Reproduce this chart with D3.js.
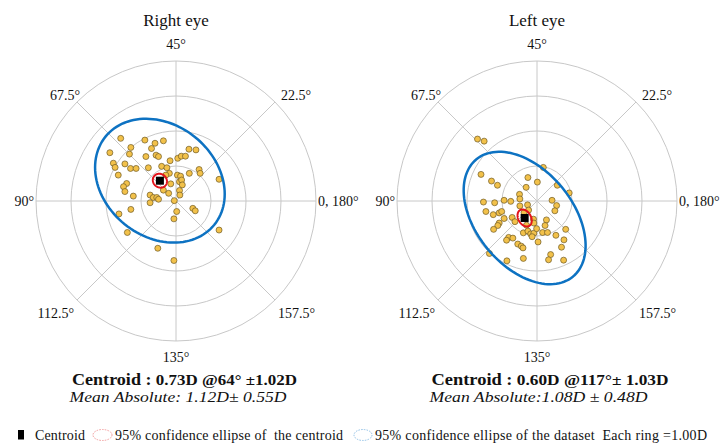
<!DOCTYPE html>
<html><head><meta charset="utf-8">
<script src="https://cdn.jsdelivr.net/npm/d3@7"></script>
<style>body{margin:0;background:#fff}</style>
</head><body><svg id="c" width="721" height="445" font-family="'Liberation Serif', 'Times New Roman', 'DejaVu Serif', serif"></svg>
<script>
// ---------- data ----------
const ringValues = [1, 2, 3, 4];                       // each ring = 1.00 D
const spokeAngles = [0, 45, 90, 135, 180, 225, 270, 315]; // double-angle plot
const axisLabels = ["0, 180°", "22.5°", "45°", "67.5°", "90°", "112.5°", "135°", "157.5°"];
const panelTitles = ["Right eye", "Left eye"];

// [x, y] in dioptres (double-angle vector components)
const rightEyePoints = [
 [-1.58,1.79],[-0.89,1.74],[-0.60,1.65],[-0.36,1.72],[-1.29,1.53],[-0.70,1.50],[-1.89,1.38],
 [-1.33,1.34],[-0.57,1.31],[-0.50,1.27],[-0.86,1.27],[-0.17,1.15],[0.05,1.22],[0.15,1.28],[0.27,1.28],
 [0.37,1.48],[0.57,1.46],[-1.79,1.08],[-1.74,0.96],[-1.46,1.06],[-1.30,0.93],[-1.14,0.93],
 [-0.79,0.95],[-0.41,0.99],[-0.26,0.95],[-0.19,0.79],[-0.29,0.74],[0.04,0.74],[0.13,0.71],
 [0.38,0.79],[0.66,0.90],[0.69,0.79],[-1.65,0.74],[-1.41,0.50],[-1.50,0.41],[-1.46,0.27],
 [-1.22,0.14],[-0.74,0.17],[-0.65,0.10],[-0.55,0.10],[-0.50,0.05],[-0.74,-0.05],[-0.36,0.31],
 [-0.21,0.22],[-0.15,0.49],[0.10,0.55],[0.16,0.60],[0.18,0.46],[0.10,0.30],[0.11,0.17],
 [-0.05,0.01],[1.23,0.62],[-1.29,-0.24],[-1.63,-0.37],[0.02,-0.30],[-0.06,-0.51],[0.48,-0.21],
 [0.55,-0.28],[-1.39,-0.90],[1.23,-0.83],[-0.52,-1.35],[-0.06,-1.70]
];
const leftEyePoints = [
 [-1.70,1.77],[-1.51,1.71],[0.18,0.96],[-1.60,0.76],[-1.30,0.57],[-1.13,0.45],[-0.26,0.67],
 [0.01,0.54],[-0.31,0.39],[0.58,0.45],[0.92,0.23],[-0.50,0.19],[-0.49,0.06],[-1.53,-0.03],
 [-1.21,-0.05],[-0.94,0.02],[-0.75,-0.01],[0.43,0.02],[0.56,-0.13],[0.51,-0.28],[-1.46,-0.30],
 [-1.25,-0.39],[-1.08,-0.34],[-1.01,-0.30],[-0.94,-0.50],[-0.71,-0.47],[-0.63,-0.59],[-0.49,-0.14],
 [-0.27,-0.11],[-0.24,-0.26],[-0.37,-0.33],[-0.10,-0.52],[-0.09,-0.63],[-0.30,-0.69],[0.27,-0.54],
 [0.23,-0.70],[0.16,-0.90],[0.30,-0.90],[-1.08,-0.63],[-1.12,-0.70],[-1.24,-0.81],[-0.39,-0.91],
 [-0.26,-0.86],[-0.18,-0.94],[-0.09,-0.92],[0.03,-1.17],[-0.14,-1.02],[-0.01,-0.79],[0.54,-0.98],
 [0.82,-0.81],[0.77,-1.11],[0.70,-1.32],[0.39,-1.53],[0.33,-1.68],[0.76,-1.69],[-0.81,-1.04],
 [-0.69,-1.06],[-0.87,-1.12],[-0.55,-1.23],[-0.45,-1.29],[-0.40,-1.34],[-1.36,-1.50],
 [-0.86,-1.71],[-0.39,-1.64]
];
const centroids = [[-0.46, 0.58], [-0.353, -0.485]];
// [semi-major, semi-minor, angle in degrees] in dioptres
const datasetEllipses = [[2.0, 1.6, -39], [2.17, 1.38, -50.6]];
const centroidEllipses = [[0.21, 0.19, -40], [0.26, 0.18, -60]];
const centroidTexts = [["Centroid :", " 0.73D @64° ±1.02D"], ["Centroid :", " 0.60D @117°± 1.03D"]];
const meanAbsTexts = ["Mean Absolute: 1.12D± 0.55D", "Mean Absolute:1.08D ± 0.48D"];
const legendLabels = ["Centroid", "95% confidence ellipse of  the centroid",
                      "95% confidence ellipse of the dataset  Each ring =1.00D"];

// ---------- layout ----------
const FONT = "'Liberation Serif', 'Times New Roman', 'DejaVu Serif', serif";
const svg = d3.select("#c");
svg.append("rect").attr("width", 721).attr("height", 445).attr("fill", "#fff");
const R = 140, cy = 201, centersX = [176, 537];
const rScale = d3.scaleLinear().domain([0, d3.max(ringValues)]).range([0, R]);
const labelPos = [[R+2,5,"start"],[105,-101,"start"],[0,-152,"middle"],[-96,-101,"end"],
                  [-R-2,5,"end"],[-102,117,"end"],[0,161,"middle"],[102,117,"start"]];
const textBoxes = [[72, 225, 69.5, 217], [431.5, 237, 429.5, 218]];
const panels = [rightEyePoints, leftEyePoints];

panels.forEach((pts, i) => {
  const cx = centersX[i];
  const maxV = d3.max(ringValues);
  const x = d3.scaleLinear().domain([-maxV, maxV]).range([cx - R, cx + R]);
  const y = d3.scaleLinear().domain([-maxV, maxV]).range([cy + R, cy - R]);
  const g = svg.append("g");
  g.selectAll("circle.ring").data(ringValues).join("circle")
    .attr("cx", cx).attr("cy", cy).attr("r", d => rScale(d))
    .attr("fill", "none").attr("stroke", "#c8c8c8").attr("stroke-width", 1);
  g.selectAll("line.spoke").data(spokeAngles).join("line")
    .attr("x1", cx).attr("y1", cy)
    .attr("x2", d => x(maxV * Math.cos(d * Math.PI / 180)))
    .attr("y2", d => y(maxV * Math.sin(d * Math.PI / 180)))
    .attr("stroke", "#c8c8c8").attr("stroke-width", 1);
  g.selectAll("text.ax").data(axisLabels).join("text")
    .attr("font-family", FONT).attr("fill", "#111")
    .attr("x", (d, k) => cx + labelPos[k][0]).attr("y", (d, k) => cy + labelPos[k][1])
    .attr("text-anchor", (d, k) => labelPos[k][2])
    .attr("font-size", 14).text(d => d);
  g.append("text").attr("font-family", FONT).attr("fill", "#111")
    .attr("x", cx).attr("y", 26).attr("text-anchor", "middle")
    .attr("font-size", 17).text(panelTitles[i]);
  const ellPath = (c, e) => {
    const [a, b, ang] = e, th = ang * Math.PI / 180;
    const ts = d3.range(0, 361, 3).map(t => t * Math.PI / 180);
    return d3.line()
      .x(t => x(c[0] + a * Math.cos(t) * Math.cos(th) - b * Math.sin(t) * Math.sin(th)))
      .y(t => y(c[1] + a * Math.cos(t) * Math.sin(th) + b * Math.sin(t) * Math.cos(th)))(ts) + "Z";
  };
  g.selectAll("circle.pt").data(pts).join("circle")
    .attr("cx", d => x(d[0])).attr("cy", d => y(d[1])).attr("r", 3)
    .attr("fill", "#f2c14a").attr("stroke", "#6e5a25").attr("stroke-width", 0.7);
  g.append("path").attr("d", ellPath(centroids[i], datasetEllipses[i]))
    .attr("fill", "none").attr("stroke", "#0d72c2").attr("stroke-width", 2.5);
  g.append("path").attr("d", ellPath(centroids[i], centroidEllipses[i]))
    .attr("fill", "none").attr("stroke", "#e3131b").attr("stroke-width", 2);
  g.append("rect").attr("x", x(centroids[i][0]) - 4).attr("y", y(centroids[i][1]) - 4)
    .attr("width", 8).attr("height", 8).attr("fill", "#000");
  const tb = textBoxes[i];
  const t1 = svg.append("text").attr("font-family", FONT).attr("fill", "#111")
    .attr("x", tb[0]).attr("y", 385).attr("font-weight", "bold")
    .attr("textLength", tb[1]).attr("lengthAdjust", "spacingAndGlyphs").style("white-space", "pre");
  t1.append("tspan").attr("font-size", 16.5).text(centroidTexts[i][0]);
  t1.append("tspan").attr("font-size", 15.5).text(centroidTexts[i][1]);
  svg.append("text").attr("font-family", FONT).attr("fill", "#111")
    .attr("x", tb[2]).attr("y", 402).attr("font-style", "italic")
    .attr("font-size", 15.5).attr("textLength", tb[3]).attr("lengthAdjust", "spacingAndGlyphs")
    .style("white-space", "pre").text(meanAbsTexts[i]);
});

// ---------- legend ----------
const lg = svg.append("g");
lg.append("rect").attr("x", 18).attr("y", 430).attr("width", 6).attr("height", 9.5).attr("fill", "#000");
lg.append("ellipse").attr("cx", 102.5).attr("cy", 435).attr("rx", 9.5).attr("ry", 5.5)
  .attr("fill", "none").attr("stroke", "#f29a9a").attr("stroke-width", 1).attr("stroke-dasharray", "1.5,1.2");
lg.append("ellipse").attr("cx", 363).attr("cy", 435).attr("rx", 9).attr("ry", 5.5)
  .attr("fill", "none").attr("stroke", "#8fc0e6").attr("stroke-width", 1).attr("stroke-dasharray", "1.5,1.2");
const legX = [[35, 50], [115, 228], [375, 332]];
lg.selectAll("text").data(legendLabels).join("text")
  .attr("font-family", FONT).attr("fill", "#111")
  .attr("x", (d, k) => legX[k][0]).attr("y", 439.5).attr("font-size", 14)
  .attr("textLength", (d, k) => legX[k][1]).attr("lengthAdjust", "spacing")
  .style("white-space", "pre").text(d => d);
</script></body></html>
